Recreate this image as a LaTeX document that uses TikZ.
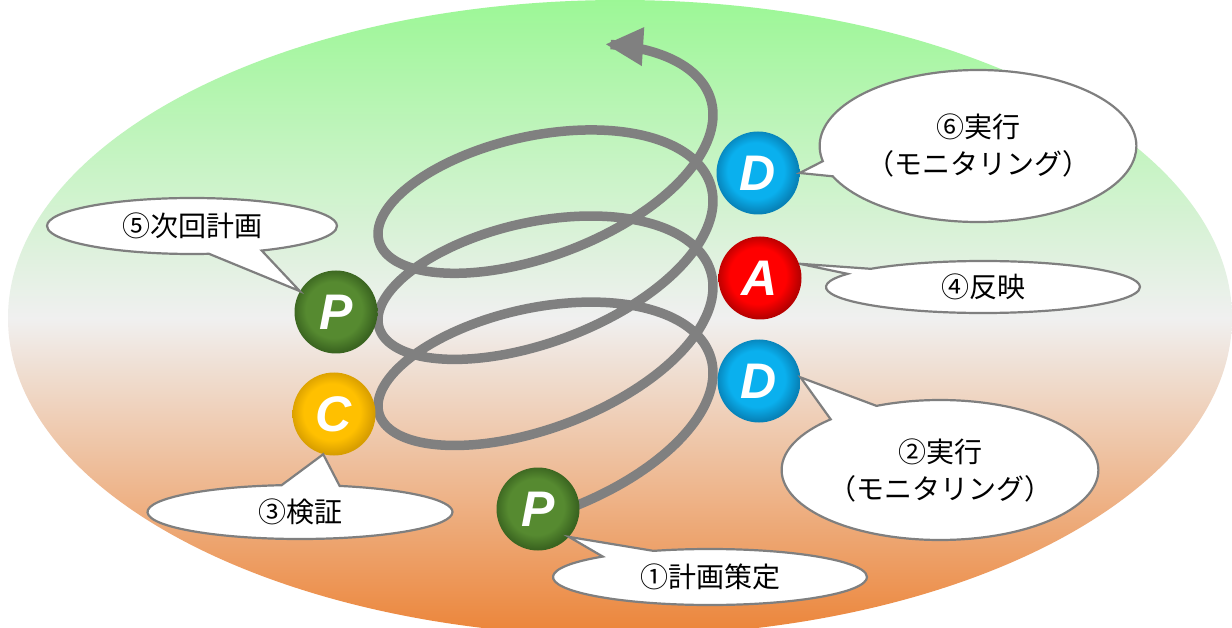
\documentclass[tikz,border=0pt]{standalone}
\usepackage{fontspec}
\newfontfamily\jpfont{Noto Sans CJK JP}
\newfontfamily\letterfont{Liberation Sans}
\usetikzlibrary{shapes.callouts,arrows.meta}
\definecolor{bgtop}{HTML}{9CF796}
\definecolor{bgmid}{HTML}{F0F0F0}
\definecolor{bgbot}{HTML}{EC8438}
\definecolor{spiralgray}{HTML}{808080}
\definecolor{outl}{HTML}{7F7F7F}
\definecolor{gc}{HTML}{568A30}
\definecolor{ge}{HTML}{3A6420}
\definecolor{bc}{HTML}{0AB0EE}
\definecolor{be}{HTML}{0782B8}
\definecolor{rc}{HTML}{FF0000}
\definecolor{re}{HTML}{B80000}
\definecolor{yc}{HTML}{FFC000}
\definecolor{ye}{HTML}{D89E00}
\pgfdeclareradialshading{greenball}{\pgfpoint{-2bp}{2bp}}{color(0bp)=(gc); color(17bp)=(gc); color(25bp)=(ge); color(50bp)=(ge)}
\pgfdeclareradialshading{blueball}{\pgfpoint{-2bp}{2bp}}{color(0bp)=(bc); color(17bp)=(bc); color(25bp)=(be); color(50bp)=(be)}
\pgfdeclareradialshading{redball}{\pgfpoint{-2bp}{2bp}}{color(0bp)=(rc); color(17bp)=(rc); color(25bp)=(re); color(50bp)=(re)}
\pgfdeclareradialshading{yellowball}{\pgfpoint{-2bp}{2bp}}{color(0bp)=(yc); color(17bp)=(yc); color(25bp)=(ye); color(50bp)=(ye)}
\tikzset{
  ball/.style={circle, shade, shading=#1, minimum size=83pt, inner sep=0pt, text=white,
    font=\letterfont\bfseries\itshape\fontsize{50}{50}\selectfont},
  bubble/.style={ellipse callout, draw=outl, line width=2.2pt, fill=white, inner sep=0pt,
    font=\jpfont\fontsize{28}{37}\selectfont, align=center, text=black},
  spiralline/.style={draw=spiralgray, line width=9.5pt, -{Triangle[length=38pt,width=36pt]}}
}
\begin{document}
\begin{tikzpicture}[x=1pt,y=-1pt]
\fill[white] (0,0) rectangle (1232,628);
\useasboundingbox (0,0) rectangle (1232,628);
\shade[top color=bgtop, bottom color=bgbot, middle color=bgmid] (620,318) ellipse [x radius=612, y radius=318];
% spiral
\draw[spiralline] plot[domain=-1.45:20.06, samples=600, variable=\t]
  ({545.5+167.5*cos(\t r)}, {411-13.7*\t-84*sin(\t r)-38*cos(\t r)});
% balls
\node[ball=greenball]  (pb) at (538,509) {P};
\node[ball=blueball]   (dl) at (759,381) {D};
\node[ball=redball]    (a)  at (760,278) {A};
\node[ball=blueball]   (du) at (758,173) {D};
\node[ball=greenball]  (pu) at (336,312) {P};
\node[ball=yellowball] (c)  at (334,414) {C};
% callouts
\node[bubble, minimum width=314pt, minimum height=56pt, callout pointer arc=22,
  callout absolute pointer={(pb.-42)}] (b1) at (710,577) {①計画策定};
\node[bubble, minimum width=315pt, minimum height=140pt, callout pointer arc=20,
  callout absolute pointer={(dl.5)}] (b2) at (940,470) {②実行\\（モニタリング）};
\node[bubble, minimum width=305pt, minimum height=54pt, callout pointer arc=22,
  callout absolute pointer={(c.-105)}] (b3) at (300,512) {③検証};
\node[bubble, minimum width=314pt, minimum height=52pt, callout pointer arc=14,
  callout absolute pointer={(a.20)}] (b4) at (983,287) {④反映};
\node[bubble, minimum width=290pt, minimum height=56pt, callout pointer arc=22,
  callout absolute pointer={(pu.150)}] (b5) at (192,226) {⑤次回計画};
\node[bubble, minimum width=300pt, minimum height=152pt, callout pointer arc=12,
  callout absolute pointer={(du.east)}] (b6) at (978,146) {⑥実行\\（モニタリング）};
\end{tikzpicture}
\end{document}
